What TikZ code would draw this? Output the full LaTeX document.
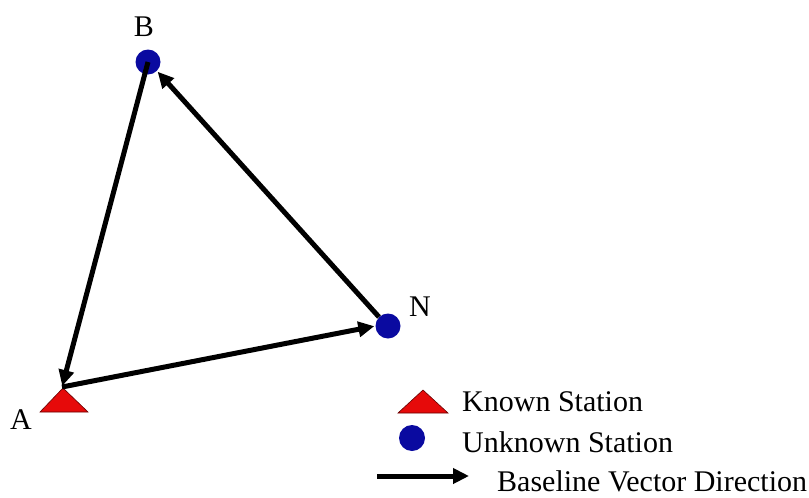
\documentclass[tikz,border=0pt]{standalone}
\usepackage{fontspec}
\setmainfont{Liberation Serif}
\usetikzlibrary{arrows.meta}
\definecolor{kred}{RGB}{230,10,10}
\definecolor{udot}{RGB}{10,10,160}
\begin{document}
\begin{tikzpicture}[x=1pt,y=-1pt,
  lbl/.style={inner sep=0pt,font=\fontsize{30}{33}\selectfont},
  vec/.style={line width=5pt,-{Triangle[length=16pt,width=15pt]},shorten >=1pt},
  known/.style={fill=kred,draw=black!60!red,line width=0.6pt},
  unk/.style={circle,fill=udot,inner sep=0pt,minimum size=25pt}]
\useasboundingbox (0,0) rectangle (809,498);
% stations
\filldraw[known] (40,412) -- (63,388) -- (88,412) -- cycle;
\coordinate (A) at (62,387);
\node[unk] (B) at (148,62) {};
\node[unk] (N) at (388,326) {};
\node[lbl] (la) at (21,420) {A};
\node[lbl] (lb) at (144,27) {B};
\node[lbl] (ln) at (420,307) {N};
% vectors
\draw[vec] (B.center) -- (A);
\draw[vec] (A) -- (N.west);
\draw[vec] (N.north west) -- (B.south east);
% legend
\filldraw[known] (398,413) -- (423,390) -- (448,413) -- cycle;
\node[unk,minimum size=26pt] (ld) at (412,438) {};
\coordinate (l1) at (377,476);
\coordinate (l2) at (470,476);
\draw[vec] (l1) -- (l2);
\node[lbl,anchor=west] (t1) at (462,402) {Known Station};
\node[lbl,anchor=west] (t2) at (462,442) {Unknown Station};
\node[lbl,anchor=west] (t3) at (497,481) {Baseline Vector Direction};
\end{tikzpicture}
\end{document}
